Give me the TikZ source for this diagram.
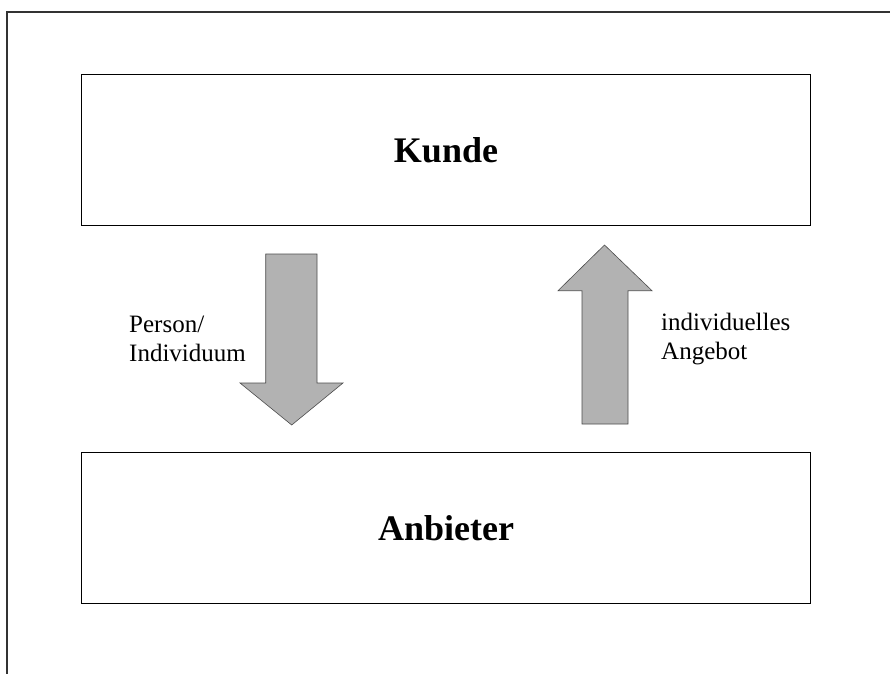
\documentclass[tikz,border=0pt]{standalone}
\usepackage{fontspec}
\setmainfont{Liberation Serif}
\begin{document}
\begin{tikzpicture}[x=1pt,y=-1pt,
  frameline/.style={draw=black!80, line width=1.6pt},
  block/.style={draw=black, line width=0.9pt, minimum width=729pt, minimum height=151pt, inner sep=0pt,
                font=\fontsize{36}{40}\selectfont\bfseries},
  flow/.style={fill=black!30, draw=black!70, line width=0.6pt, line join=miter},
  label/.style={font=\fontsize{25}{28.5}\selectfont, align=left, inner sep=0pt, anchor=west}]
  \useasboundingbox (0,0) rectangle (890,674);
  % outer frame: top and left edges only
  \draw[frameline] (890,12.3) -- (6.7,12.3) -- (6.7,674);
  % the two parties
  \node[block] (kunde) at (446,150.4) {Kunde};
  \node[block] (anbieter) at (446,527.8) {Anbieter};
  % downward arrow
  \draw[flow] (265.7,254) -- (317,254) -- (317,383) -- (343,383) -- (291.7,425)
              -- (240,383) -- (265.7,383) -- cycle;
  % upward arrow
  \draw[flow] (582,424) -- (628,424) -- (628,290.7) -- (652,290.7) -- (604.5,245)
              -- (558,290.7) -- (582,290.7) -- cycle;
  % labels beside the arrows
  \node[label] (person) at (129,339) {Person/\\Individuum};
  \node[label] (angebot) at (661,339) {individuelles\\Angebot};
\end{tikzpicture}
\end{document}
